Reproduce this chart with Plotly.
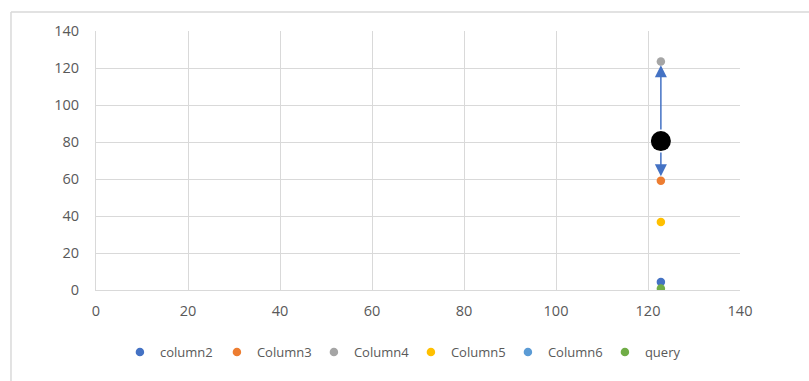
import plotly.graph_objects as go

# Series names, colours and the values at the single x position
series_names = ["column2", "Column3", "Column4", "Column5", "Column6", "query"]
series_colors = ["#4472C4", "#ED7D31", "#A5A5A5", "#FFC000", "#5B9BD5", "#70AD47"]
x_value = 122.8
y_values = [4.3, 59.0, 123.5, 36.8, 80.5, 0.8]

# Centre point with its upper and lower range
center_y = 80.5
range_upper = 121.5
range_lower = 61.5

fig = go.Figure()

for name, color, yv in zip(series_names, series_colors, y_values):
    fig.add_trace(go.Scatter(
        x=[x_value], y=[yv], mode="markers", name=name,
        marker=dict(color=color, size=8.5),
    ))

fig.add_trace(go.Scatter(
    x=[x_value], y=[center_y], mode="markers", showlegend=False,
    marker=dict(color="#000000", size=20),
))

for end in (range_upper, range_lower):
    fig.add_annotation(
        x=x_value, y=end, ax=x_value, ay=center_y,
        xref="x", yref="y", axref="x", ayref="y",
        showarrow=True, arrowhead=2, arrowsize=1.6, arrowwidth=1.5,
        arrowcolor="#4472C4", startstandoff=10, text="",
    )

# Chart-area frame (top and left edges)
frame = dict(color="#D9D9D9", width=1.5)
fig.add_shape(type="line", xref="paper", yref="paper",
              x0=-0.132, x1=1.2, y0=1.0734, y1=1.0734, line=frame)
fig.add_shape(type="line", xref="paper", yref="paper",
              x0=-0.132, x1=-0.132, y0=1.0734, y1=-0.4, line=frame)

axis_common = dict(
    showgrid=True, gridcolor="#D9D9D9", gridwidth=1,
    showline=True, linecolor="#D9D9D9", linewidth=1, mirror=False,
    zeroline=False, ticks="", tickfont=dict(color="#595959", size=14.5),
)

fig.update_xaxes(range=[0, 140], dtick=20, ticklabelstandoff=8, **axis_common)
fig.update_yaxes(range=[0, 140], dtick=20, ticklabelstandoff=13, **axis_common)

fig.update_layout(
    width=809, height=381,
    margin=dict(l=96, r=69, t=31, b=91),
    paper_bgcolor="white", plot_bgcolor="white",
    font=dict(family="Open Sans, sans-serif", color="#595959", size=14),
    legend=dict(
        orientation="h", x=0.489, xanchor="center", y=-0.24, yanchor="middle",
        font=dict(size=13, color="#595959"), itemwidth=30,
        entrywidth=52, entrywidthmode="pixels",
        itemsizing="trace", tracegroupgap=0,
    ),
)

fig.write_html("out.html")
